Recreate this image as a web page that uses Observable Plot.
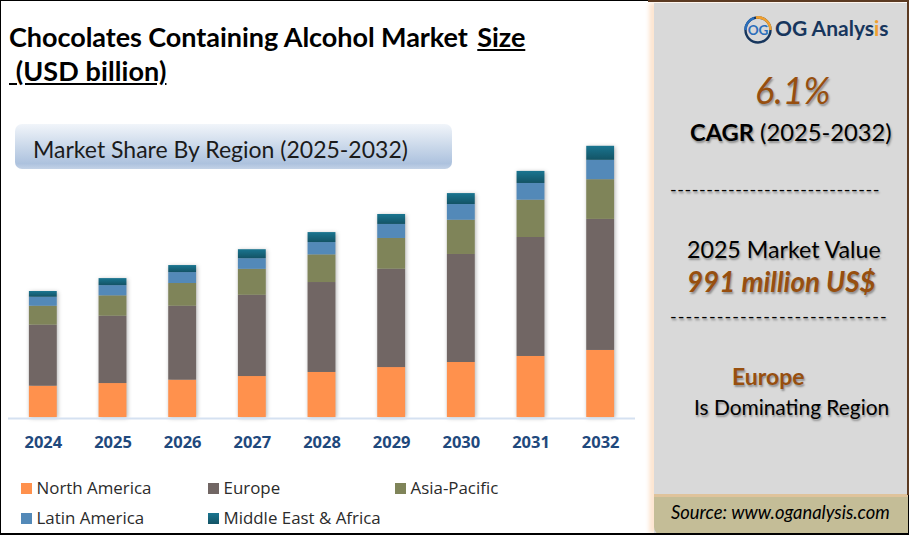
<!DOCTYPE html>
<html>
<head>
<meta charset="utf-8">
<script src="https://cdn.jsdelivr.net/npm/d3@7"></script>
<script src="https://cdn.jsdelivr.net/npm/@observablehq/plot@0.6"></script>
<style>
  html, body { margin: 0; padding: 0; background: #fff; }
  #page { position: relative; width: 909px; height: 535px; overflow: hidden; font-family: Lato, sans-serif; color: #000; }
  #frame { position: absolute; left: 0; top: 0; width: 907px; height: 532px; border: 1px solid #000; border-bottom-width: 2px; z-index: 3; pointer-events: none; }
  #chart-display { position: absolute; left: 0; top: 0; }
  .t { position: absolute; white-space: nowrap; }
  #title { left: 9px; top: 19px; font-size: 27px; line-height: 35px; font-weight: 700; letter-spacing: -0.05px; white-space: pre; }
  #title .size { margin-left: 3px; }
  #title .unit { letter-spacing: 0.1px; position: relative; top: -1px; }
  #banner { position: absolute; left: 15px; top: 124px; width: 437px; height: 45px; border-radius: 7px;
    background: linear-gradient(#f1f5fa 0%, #c6d5e8 55%, #adc2de 88%, #c3d2e6 100%); }
  #banner span { position: absolute; left: 18px; top: 10px; font-size: 23px; line-height: 30px; white-space: nowrap; color: #1b1b1b; }
  #legend .sw { position: absolute; width: 11px; height: 11px; }
  #legend .lb { position: absolute; font-family: "Open Sans", sans-serif; font-size: 16.9px; line-height: 20px; color: #2b2b2b; white-space: nowrap; }
  #panel { position: absolute; left: 654px; top: 3px; width: 253px; height: 530px; background: #d9d9d9; box-shadow: -5px 0 4px #fde6d2; z-index: 1; }
  #edge-top { position: absolute; left: 648px; top: 0; width: 261px; height: 2px; background: #5b3a22; z-index: 4; }
  #edge-right { position: absolute; left: 907px; top: 0; width: 2px; height: 495px; background: #5b3a22; z-index: 4; }
  #footer { position: absolute; left: 654px; top: 494px; width: 255px; height: 41px; background: #c4bd97; border-top: 3px solid #dfc39b; box-sizing: border-box; border-bottom-left-radius: 8px; z-index: 2; }
  #side { position: absolute; left: 0; top: 0; z-index: 5; }
  .sh { text-shadow: 1px 2px 2px rgba(0,0,0,.35); }
  .br { color: #974f0f; }
</style>
</head>
<body>
<div id="page">
  <div id="chart-display"></div>
  <div class="t" id="title">Chocolates Containing Alcohol Market <u class="size">Size</u>
<u class="unit"> (USD billion)</u></div>
  <div id="banner"><span>Market Share By Region (2025-2032)</span></div>
  <div id="legend"></div>
  <div id="panel"></div>
  <div id="footer"></div>
  <div id="edge-top"></div>
  <div id="edge-right"></div>
  <div id="side">
    <svg class="t" style="left:743px;top:15px" width="30" height="30" viewBox="0 0 30 30">
      <circle cx="15" cy="15" r="12.5" fill="none" stroke="#17365d" stroke-width="2.4"/>
      <path d="M2.5 15A12.5 12.5 0 0 1 11 3.1" fill="none" stroke="#2a6ebb" stroke-width="2.6"/>
      <path d="M13 2.6A12.5 12.5 0 0 1 27.5 15" fill="none" stroke="#f0a030" stroke-width="2.6"/>
      <text x="15" y="20" text-anchor="middle" font-family="Lato" font-weight="700" font-size="13.5" fill="#2a6ebb">OG</text>
    </svg>
    <div class="t" style="left:775px;top:13px;font-size:21px;line-height:30px;font-weight:700;color:#17365d">OG Analys<span style="color:#f0a030">i</span>s</div>
    <div class="t sh br" style="left:755px;top:68px;font-size:36px;line-height:44px;font-style:italic">6.1%</div>
    <div class="t sh" style="left:690px;top:117px;font-size:23.7px;line-height:30px"><b>CAGR</b> (2025-2032)</div>
    <div class="t sh" style="left:670px;top:179px;font-size:18px;line-height:20px;letter-spacing:0.55px">-----------------------------</div>
    <div class="t sh" style="left:687px;top:234px;font-size:23.2px;line-height:30px">2025 Market Value</div>
    <div class="t sh br" style="left:687px;top:266px;font-size:27.8px;line-height:32px;font-weight:700;font-style:italic">991 million US$</div>
    <div class="t sh" style="left:670px;top:306px;font-size:18px;line-height:20px;letter-spacing:1.09px">----------------------------</div>
    <div class="t sh br" style="left:732px;top:361px;font-size:23px;line-height:30px;font-weight:700">Europe</div>
    <div class="t sh" style="left:694px;top:392px;font-size:20.9px;line-height:30px">Is Dominating Region</div>
    <div class="t" style="left:671px;top:501px;font-size:18.4px;line-height:22px;font-style:italic">Source: www.oganalysis.com</div>
  </div>
  <div id="frame"></div>
</div>
<script>
const years = ["2024", "2025", "2026", "2027", "2028", "2029", "2030", "2031", "2032"]
const regions = ["North America", "Europe", "Asia-Pacific", "Latin America", "Middle East & Africa"]
const colors = ["#ff914d", "#716664", "#7f8459", "#5389b8", "url(#teal)"]

// USD billion
const northAmerica = [0.223, 0.242, 0.266, 0.292, 0.321, 0.356, 0.392, 0.435, 0.478]
const europe = [0.435, 0.480, 0.527, 0.579, 0.641, 0.701, 0.770, 0.848, 0.934]
const asiaPacific = [0.135, 0.145, 0.162, 0.185, 0.197, 0.219, 0.244, 0.266, 0.283]
const latinAmerica = [0.064, 0.073, 0.078, 0.076, 0.088, 0.100, 0.112, 0.119, 0.138]
const middleEastAfrica = [0.041, 0.050, 0.050, 0.064, 0.071, 0.071, 0.078, 0.086, 0.100]

const series = [northAmerica, europe, asiaPacific, latinAmerica, middleEastAfrica]
const rows = regions.flatMap((region, i) => years.map((year, j) => ({year, region, value: series[i][j]})))

const plot = Plot.plot({
  width: 909,
  height: 535,
  marginLeft: 8,
  marginRight: 274,
  marginTop: 136.4,
  marginBottom: 118,
  style: {background: "transparent"},
  x: {domain: years, paddingInner: 0.6, paddingOuter: 0.3, round: false, label: null},
  y: {domain: [0, 2], axis: null},
  color: {domain: regions, range: colors},
  marks: [
    () => {
      const defs = d3.create("svg:defs")
      const grad = defs.append("linearGradient").attr("id", "teal").attr("x1", 0).attr("y1", 0).attr("x2", 0).attr("y2", 1)
      grad.append("stop").attr("offset", "0%").attr("stop-color", "#1a7590")
      grad.append("stop").attr("offset", "100%").attr("stop-color", "#135365")
      return defs.node()
    },
    Plot.barY(rows, {x: "year", y: "value", fill: "region", className: "stack"}),
    Plot.ruleY([0], {stroke: "#d5e1f1", strokeWidth: 2, dy: 1}),
    Plot.axisX({
      tickSize: 0,
      tickPadding: 19,
      label: null,
      fontSize: 16.5,
      fontWeight: 700,
      fontFamily: "Open Sans",
      fill: "#1f497d"
    })
  ]
})
plot.querySelector(".stack").style.filter = "drop-shadow(1px 1px 2px rgba(0,0,0,.3))"
document.querySelector("#chart-display").append(plot)

// legend, in the order of the reference: three on the first row, two on the second
const legend = d3.select("#legend")
const legendX = [21, 208, 395]
const legendY = [483, 513]
regions.forEach((region, i) => {
  const left = legendX[i % 3], top = legendY[Math.floor(i / 3)]
  legend.append("div").attr("class", "sw")
    .style("left", left + "px").style("top", top + "px")
    .style("background", i == 4 ? "linear-gradient(#1a7590, #135365)" : colors[i])
  legend.append("div").attr("class", "lb")
    .style("left", (left + 15.5) + "px").style("top", (top - 5) + "px")
    .text(region)
})
</script>
</body>
</html>
